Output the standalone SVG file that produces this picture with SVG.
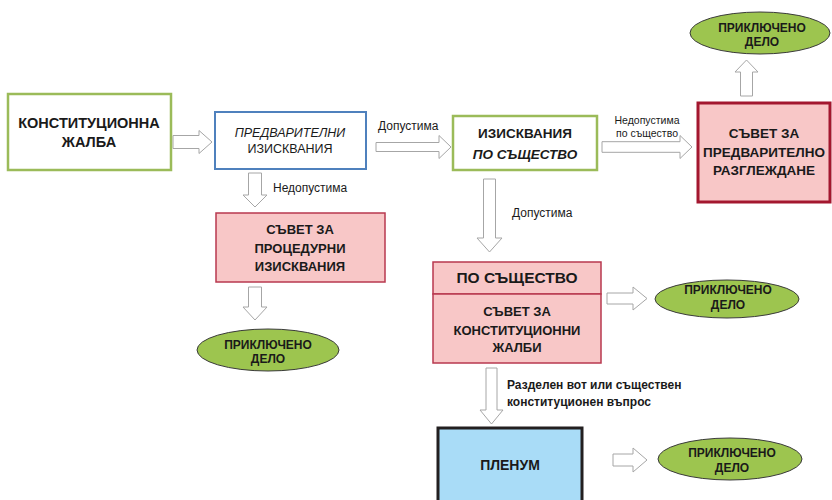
<svg xmlns="http://www.w3.org/2000/svg" width="832" height="500" viewBox="0 0 832 500">
<style>
text{font-family:"Liberation Sans",Arial,sans-serif;fill:#1a1a1a;text-anchor:middle}
.b{font-weight:bold}
.i{font-style:italic}
.arr{fill:#fff;stroke:#a6a6a6;stroke-width:1}
.green{fill:#fff;stroke:#9bbb59;stroke-width:2.5}
.pink{fill:#f8c7c7;stroke:#b8394f;stroke-width:1.5}
.ell{fill:#9dc54f;stroke:#3a3a3a;stroke-width:1}
.lbl{text-anchor:start;font-size:12px}
</style>
<rect width="832" height="500" fill="#fff"/>
<g id="connectors">
<polygon class="arr" points="173,135.5 199,135.5 199,130.5 212,142 199,153.5 199,148.5 173,148.5"/>
<polygon class="arr" points="376,142.5 439,142.5 439,135.5 451,147 439,158.5 439,151.5 376,151.5"/>
<polygon class="arr" points="602,141.7 680,141.7 680,135.5 692,147 680,158.5 680,152.3 602,152.3"/>
<polygon class="arr" points="740.5,96 740.5,72 735,72 746.5,60 758,72 752.5,72 752.5,96"/>
<polygon class="arr" points="248.5,173 248.5,195 243,195 255,207 267,195 261.5,195 261.5,173"/>
<polygon class="arr" points="248.5,287 248.5,307 243,307 255,320 267,307 261.5,307 261.5,287"/>
<polygon class="arr" points="483.5,179 483.5,238 477,238 489.5,252 502,238 495.5,238 495.5,179"/>
<polygon class="arr" points="607,293 633,293 633,287 647,298.5 633,310 633,304 607,304"/>
<polygon class="arr" points="486,368 486,410 480,410 491.5,424 503,410 497,410 497,368"/>
<polygon class="arr" points="613,454 633,454 633,448 647,460 633,472 633,466 613,466"/>
<text class="lbl" x="378" y="130">Допустима</text>
<text class="lbl" x="273" y="192">Недопустима</text>
<text class="lbl" x="512" y="217">Допустима</text>
<text x="647" y="124" style="font-size:10.5px">Недопустима</text>
<text x="647" y="137" style="font-size:10.5px">по същество</text>
<text class="lbl b" x="507" y="389">Разделен вот или съществен</text>
<text class="lbl b" x="507" y="406">конституционен въпрос</text>
</g>
<g id="n-complaint">
<rect class="green" x="8" y="94" width="163" height="76"/>
<text class="b" x="89" y="128" font-size="14.5">КОНСТИТУЦИОННА</text>
<text class="b" x="89" y="147" font-size="14.5">ЖАЛБА</text>
</g>
<g id="n-prelim">
<rect x="215" y="112" width="151" height="57" fill="#fff" stroke="#4f81bd" stroke-width="2"/>
<text class="i" x="290" y="137" font-size="12.5">ПРЕДВАРИТЕЛНИ</text>
<text x="290" y="153" font-size="12.5">ИЗИСКВАНИЯ</text>
</g>
<g id="n-merits-req">
<rect class="green" x="453" y="116" width="144" height="54"/>
<text class="b" x="525" y="138" font-size="13.5">ИЗИСКВАНИЯ</text>
<text class="b i" x="525" y="159" font-size="13.5">ПО СЪЩЕСТВО</text>
</g>
<g id="n-prelim-council">
<rect x="698" y="103" width="132" height="99" fill="#f8c7c7" stroke="#a3172f" stroke-width="3"/>
<text class="b" x="764" y="138" font-size="13.5">СЪВЕТ ЗА</text>
<text class="b" x="764" y="157" font-size="13.5">ПРЕДВАРИТЕЛНО</text>
<text class="b" x="764" y="175" font-size="13.5">РАЗГЛЕЖДАНЕ</text>
</g>
<g id="n-closed-top">
<ellipse class="ell" cx="760" cy="33" rx="70" ry="21"/>
<text class="b" x="762" y="32" font-size="12">ПРИКЛЮЧЕНО</text>
<text class="b" x="762" y="46" font-size="12">ДЕЛО</text>
</g>
<g id="n-proc-council">
<rect class="pink" x="216" y="213" width="169" height="69"/>
<text class="b" x="300" y="234" font-size="13">СЪВЕТ ЗА</text>
<text class="b" x="300" y="253" font-size="13">ПРОЦЕДУРНИ</text>
<text class="b" x="300" y="271" font-size="13">ИЗИСКВАНИЯ</text>
</g>
<g id="n-closed-left">
<ellipse class="ell" cx="268" cy="350" rx="71" ry="21"/>
<text class="b" x="268" y="349" font-size="12">ПРИКЛЮЧЕНО</text>
<text class="b" x="268" y="363" font-size="12">ДЕЛО</text>
</g>
<g id="n-merits">
<rect class="pink" x="433" y="262" width="168" height="32"/>
<text class="b" x="517" y="283" font-size="15.5">ПО СЪЩЕСТВО</text>
</g>
<g id="n-cc-council">
<rect class="pink" x="433" y="294" width="168" height="69"/>
<text class="b" x="517" y="316" font-size="13">СЪВЕТ ЗА</text>
<text class="b" x="517" y="335" font-size="13">КОНСТИТУЦИОННИ</text>
<text class="b" x="517" y="352" font-size="13">ЖАЛБИ</text>
</g>
<g id="n-closed-mid">
<ellipse class="ell" cx="727" cy="299" rx="72" ry="19"/>
<text class="b" x="728" y="294" font-size="12">ПРИКЛЮЧЕНО</text>
<text class="b" x="728" y="309" font-size="12">ДЕЛО</text>
</g>
<g id="n-plenum">
<rect x="438" y="428" width="144" height="80" fill="#a9dcf7" stroke="#231f20" stroke-width="3"/>
<text class="b" x="510" y="470" font-size="14">ПЛЕНУМ</text>
</g>
<g id="n-closed-bottom">
<ellipse class="ell" cx="730" cy="459" rx="72" ry="21"/>
<text class="b" x="732" y="457" font-size="12">ПРИКЛЮЧЕНО</text>
<text class="b" x="732" y="472" font-size="12">ДЕЛО</text>
</g>
</svg>
